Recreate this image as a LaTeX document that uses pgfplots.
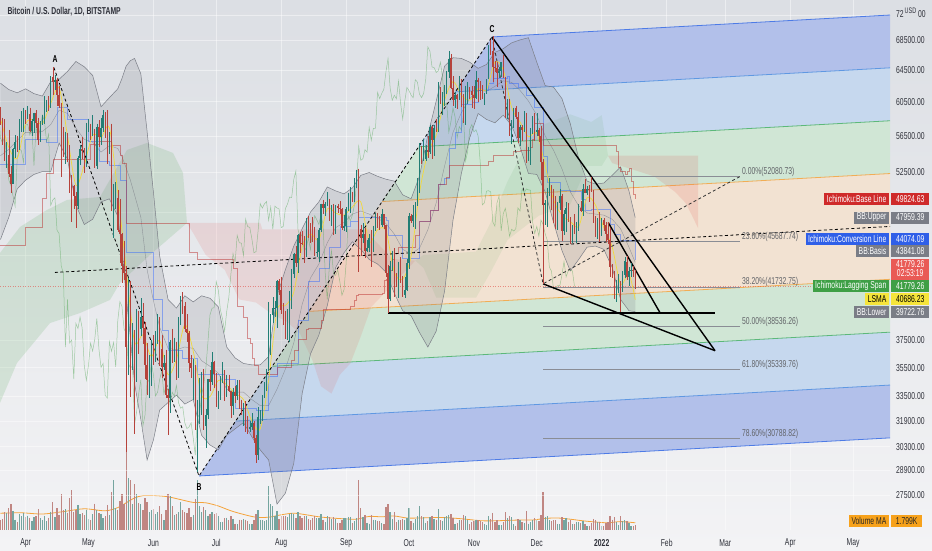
\documentclass[border=0pt]{standalone}
\usepackage{fontspec}
\setmainfont{Liberation Sans}
\usepackage{graphicx}
\usepackage{pgfplots}
\pgfplotsset{compat=1.18}
\usepackage{pgfplotstable}

\definecolor{bgtop}{HTML}{DCDFE4}
\definecolor{bgbot}{HTML}{F3F3F5}
\definecolor{upc}{HTML}{2A9D92}
\definecolor{dnc}{HTML}{E4524A}
\definecolor{upv}{HTML}{92CEC7}
\definecolor{dnv}{HTML}{F0A7A3}
\definecolor{pfbl}{HTML}{B2C0EA}
\definecolor{pflb}{HTML}{C6D8EE}
\definecolor{pfgr}{HTML}{D0E6D5}
\definecolor{pfor}{HTML}{F2E2D2}
\definecolor{plbl}{HTML}{4D7BE6}
\definecolor{pllb}{HTML}{5F98E2}
\definecolor{plgr}{HTML}{5CB87A}
\definecolor{plor}{HTML}{F1AD55}
\definecolor{bbc}{HTML}{7B7E87}
\definecolor{lsma}{HTML}{F2D93A}
\definecolor{lagc}{HTML}{43A047}
\definecolor{convc}{HTML}{2962FF}
\definecolor{basec}{HTML}{B71C1C}
\definecolor{volma}{HTML}{F5A33A}
\definecolor{fibc}{HTML}{8A8D95}
\definecolor{txt}{HTML}{2E3039}
\definecolor{lbred}{HTML}{CF2A2A}
\definecolor{lbgray}{HTML}{7A7D86}
\definecolor{lbblue}{HTML}{2F5FE8}
\definecolor{lbprice}{HTML}{E95A55}
\definecolor{lbgreen}{HTML}{3E9F45}
\definecolor{lbyel}{HTML}{F6E43A}
\definecolor{lborg}{HTML}{F7A21B}

\newcommand{\sq}[1]{\scalebox{0.68}[1]{#1}}
\newcommand{\tvf}{\fontsize{10}{11}\selectfont}

% day index: 0 = 1 Apr 2021; prices in USD, volume in thousand BTC
\pgfplotstableread{
d o h l c v
-12 58300 59900 57800 58100 2.5
-11 58100 58600 55500 57350 2.8
-10 57350 58400 53700 54080 4.5
-9 54080 55800 53000 54340 4.2
-8 54340 57200 52000 52300 5.5
-7 52300 53200 50400 51300 6.5
-6 51300 55100 51300 55000 4.8
-5 55000 56600 54000 55840 2.6
-4 55840 56500 54700 55780 2.0
-3 55780 58400 54900 57630 4.0
-2 57630 59400 57000 58770 3.5
-1 58770 59800 56900 58800 4.2
0 58800 59500 57900 58730 3.3
1 58730 60000 58500 58980 3.6
2 58980 59800 56900 57060 3.1
3 57060 58500 56500 58200 2.3
4 58200 59200 56800 59130 3.2
5 59130 59500 57400 57990 3.4
6 57990 58600 55500 56000 5.2
7 56000 58200 55800 58090 3.0
8 58090 58900 57700 58090 2.4
9 58090 61200 57900 59770 3.6
10 59770 60700 59300 60000 2.2
11 60000 61200 59400 59860 3.1
12 59860 63700 59800 63580 4.6
13 63580 64900 61300 62960 7.0
14 62960 63800 62000 63220 3.2
15 63220 63500 60000 61380 5.5
16 61380 62500 59700 60050 3.8
17 60050 60400 52000 56250 9.0
18 56250 57500 54200 55700 5.0
19 55700 57000 53400 56470 5.2
20 56470 56800 53600 53790 4.3
21 53790 55500 50400 51690 8.0
22 51690 52200 47500 51150 10.0
23 51150 51200 48800 50090 4.5
24 50090 50500 47000 49070 5.0
25 49070 54300 48800 54020 6.2
26 54020 55500 53300 55050 4.0
27 55050 56400 53900 54850 4.2
28 54850 55200 52400 53570 3.8
29 53570 58000 53100 57750 5.1
30 57750 58500 57000 57820 2.8
31 57820 57900 56000 56610 2.4
32 56610 58900 56500 57190 3.9
33 57190 57300 53000 53240 6.6
34 53240 57900 52900 57500 5.0
35 57500 58300 55300 56400 4.2
36 56400 58600 55500 57380 4.1
37 57380 59500 56900 58900 3.0
38 58900 59300 56300 58240 3.4
39 58240 59500 53400 55860 6.3
40 55860 56900 54500 56700 3.8
41 56700 57900 48600 49150 9.5
42 49150 51300 46000 49700 12.5
43 49700 51500 48800 49900 5.5
44 49900 50700 46600 46760 5.0
45 46760 49800 43800 46450 7.2
46 46450 46500 42100 43540 9.0
47 43540 45800 42300 42900 6.5
48 42900 43500 30000 37000 27.0
49 37000 42500 35000 40700 13.0
50 40700 42200 33500 37300 12.5
51 37300 38800 35300 37530 6.5
52 37530 38300 31100 34700 11.5
53 34700 39900 34500 38800 9.0
54 38800 39800 36500 38400 6.8
55 38400 40800 37800 39300 6.5
56 39300 40400 37200 38440 5.0
57 38440 38900 34700 35660 8.0
58 35660 37300 33600 34600 7.0
59 34600 36400 33400 35650 4.5
60 35650 37500 34200 37300 5.0
61 37300 37900 35700 36700 5.2
62 36700 38200 35900 37570 4.0
63 37570 39500 37200 39190 4.5
64 39190 39300 35600 36850 6.0
65 36850 37900 34800 35520 4.0
66 35520 36400 35300 35800 2.5
67 35800 36800 33400 33580 5.0
68 33580 34000 31000 33400 9.0
69 33400 37500 32400 37390 8.5
70 37390 38400 35800 36690 6.0
71 36690 37700 35900 37340 3.8
72 37340 37400 34600 35550 4.0
73 35550 39300 34800 39020 4.5
74 39020 41000 38700 40520 7.0
75 40520 41300 39500 40140 5.0
76 40140 40500 38100 38350 4.5
77 38350 39500 37400 38090 4.2
78 38090 38200 35200 35820 5.5
79 35820 36400 34800 35480 3.2
80 35480 36100 33300 35600 3.8
81 35600 35700 31300 31680 7.8
82 31680 33300 28800 32500 12.5
83 32500 34800 31700 33700 6.0
84 33700 35200 32300 34660 4.5
85 34660 35400 31300 31590 5.8
86 31590 32700 30200 32280 5.0
87 32280 34700 32000 34700 3.6
88 34700 35300 33900 34500 4.0
89 34500 36600 34300 35900 4.5
90 35900 36000 34100 35040 4.0
91 35040 35100 32800 33540 4.2
92 33540 33900 32700 33800 3.5
93 33800 34900 33300 34670 2.0
94 34670 35900 34400 35290 2.1
95 35290 35300 33200 33690 3.0
96 33690 35000 33500 34230 3.1
97 34230 35000 33800 33880 2.5
98 33880 33900 32100 32880 3.4
99 32880 34100 32300 33800 2.8
100 33800 34200 33100 33510 1.6
101 33510 34600 33300 34260 1.4
102 34260 34600 32700 33090 2.6
103 33090 33300 32300 32730 2.4
104 32730 33100 31600 32820 2.7
105 32820 33200 31200 31780 2.6
106 31780 32200 31100 31420 2.2
107 31420 31900 31200 31520 1.4
108 31520 32400 31300 31780 1.5
109 31780 31900 30500 30840 2.5
110 30840 31000 29300 29790 4.0
111 29790 32800 29500 32140 5.0
112 32140 32600 31700 32300 2.6
113 32300 33600 31900 33600 2.5
114 33600 34500 33400 34270 2.3
115 34270 35400 33900 35400 2.4
116 35400 40500 35300 37300 11.0
117 37300 39500 36400 39460 6.5
118 39460 40900 38800 40000 6.0
119 40000 40600 39300 40020 3.5
120 40020 42300 38400 42200 4.8
121 42200 42400 41100 41460 2.8
122 41460 42600 39500 39850 3.5
123 39850 40400 38700 39150 3.4
124 39150 39800 37600 38200 3.5
125 38200 39900 37500 39740 3.2
126 39740 41400 37400 40870 4.0
127 40870 43300 39900 42830 4.2
128 42830 44700 42500 44630 4.0
129 44630 45300 43400 43830 3.0
130 43830 46400 42900 46280 4.4
131 46280 46600 44700 45600 3.5
132 45600 46700 45400 45570 3.0
133 45570 46200 43800 44430 3.4
134 44430 47900 44300 47830 3.6
135 47830 48100 46000 47100 2.8
136 47100 47400 45600 47030 2.5
137 47030 48000 45700 45960 3.0
138 45960 47100 44400 44700 3.5
139 44700 46000 44300 44800 3.0
140 44800 47000 43900 46750 3.1
141 46750 49300 46600 49330 3.9
142 49330 49700 48300 48880 2.6
143 48880 49500 48100 49300 2.0
144 49300 50500 49100 49530 3.4
145 49530 49800 47600 47700 3.2
146 47700 49200 47200 48990 2.8
147 48990 49300 46300 46850 3.2
148 46850 49200 46400 49070 2.8
149 49070 49300 48400 48900 1.8
150 48900 49600 48300 48800 1.7
151 48800 48900 46800 46990 2.6
152 46990 48200 46700 47130 2.9
153 47130 49000 46600 48830 3.0
154 48830 50400 48600 49280 3.2
155 49280 51000 48400 49980 3.3
156 49980 50500 49500 49930 1.8
157 49930 51900 49500 51770 2.2
158 51770 52800 50900 52660 3.0
159 52660 52900 43000 46860 12.5
160 46860 47300 44400 46070 5.5
161 46070 47400 45600 46390 3.3
162 46390 47000 44200 44850 3.8
163 44850 45900 44800 45160 1.8
164 45160 46400 44800 46030 1.6
165 46030 46800 43400 44960 3.8
166 44960 47200 44800 47090 2.6
167 47090 48400 46700 48150 2.5
168 48150 48400 47000 47750 2.3
169 47750 48100 46800 47300 2.2
170 47300 48800 47100 48300 1.7
171 48300 48300 46900 47250 1.5
172 47250 47300 42600 42960 5.8
173 42960 43600 39600 40700 6.5
174 40700 44000 40600 43560 4.5
175 43560 44900 43100 44880 2.8
176 44880 45100 40900 42840 4.5
177 42840 42900 41700 42720 2.0
178 42720 43900 40800 43200 2.6
179 43200 44300 42100 42170 2.5
180 42170 42700 40900 41040 2.8
181 41040 42600 40800 41520 2.4
182 41520 44100 41400 43790 3.0
183 43790 48400 43300 48140 5.5
184 48140 48300 47400 47660 2.2
185 47660 49200 47100 48200 1.8
186 48200 49500 46900 49240 2.8
187 49240 51900 49100 51490 3.5
188 51490 55700 50400 55340 6.0
189 55340 55400 53400 53800 3.5
190 53800 56100 53700 53970 3.2
191 53970 55500 53700 54960 1.8
192 54960 56500 54100 54690 2.2
193 54690 57800 54500 57480 3.2
194 57480 57600 53900 56000 3.6
195 56000 57700 54300 57370 2.8
196 57370 58500 56900 57350 2.6
197 57350 62900 56900 61670 5.2
198 61670 62300 60200 60880 2.4
199 60880 61700 58900 61530 2.2
200 61530 62600 60000 62040 3.2
201 62040 64400 61400 64260 3.5
202 64260 67000 63500 65990 3.8
203 65990 66600 62100 62210 4.0
204 62210 63700 60000 60690 3.0
205 60690 61700 59800 61300 1.6
206 61300 61500 59600 60860 1.7
207 60860 63700 60700 63080 2.4
208 63080 63300 59900 60330 2.5
209 60330 61400 58000 58450 3.8
210 58450 62500 57800 60600 3.5
211 60600 62900 60200 62270 2.4
212 62270 62300 60800 61880 1.4
213 61880 62400 59700 61320 1.9
214 61320 62400 59600 61000 2.3
215 61000 64300 60800 63230 2.6
216 63230 63500 60500 62950 2.4
217 62950 63100 60700 61440 2.2
218 61440 62600 60800 61000 2.0
219 61000 61600 60100 61530 1.4
220 61530 63300 61400 63310 1.3
221 63310 67800 63300 67550 3.4
222 67550 68500 66400 66950 2.8
223 66950 69000 63000 64880 4.3
224 64880 65600 64200 64800 2.0
225 64800 65500 62300 64160 2.5
226 64160 64900 63400 64400 1.3
227 64400 65500 63600 65500 1.2
228 65500 66400 63400 63600 2.1
229 63600 63600 58600 60100 4.5
230 60100 60800 58400 60360 2.9
231 60360 60900 56500 56900 3.6
232 56900 58300 55600 58100 3.2
233 58100 59800 57400 59750 1.5
234 59750 60000 58500 58700 1.1
235 58700 59300 55700 56300 2.7
236 56300 57800 55400 57570 2.4
237 57570 57700 55900 57160 2.0
238 57160 59400 57000 58960 1.8
239 58960 59200 53500 53720 4.8
240 53720 55300 53700 54740 1.6
241 54740 57400 53300 57270 1.9
242 57270 58800 56700 57800 2.5
243 57800 59200 55900 56950 3.0
244 56950 59100 56500 57200 2.6
245 57200 57400 55800 56500 2.2
246 56500 57600 51700 53600 3.8
247 53600 53900 42000 49200 9.5
248 49200 49700 47300 49400 3.3
249 49400 50900 47100 50580 3.5
250 50580 51900 50100 50620 2.4
251 50620 51200 48700 50500 2.2
252 50500 50800 47400 47540 2.4
253 47540 50100 46900 47140 2.5
254 47140 49500 46800 49390 1.6
255 49390 50800 48700 50100 1.5
256 50100 50300 45800 46700 3.2
257 46700 48700 46300 48340 2.4
258 48340 49500 46600 48870 3.0
259 48870 49400 47500 47640 1.9
260 47640 48000 45500 46200 2.6
261 46200 47300 45600 46850 1.5
262 46850 48300 46400 46690 1.5
263 46690 47500 45600 46900 2.0
264 46900 49300 46700 48900 2.0
265 48900 49600 48500 48600 1.7
266 48600 51300 48100 50800 2.2
267 50800 51800 50500 50420 1.6
268 50420 51100 50200 50800 0.9
269 50800 51200 49500 50700 1.1
270 50700 52000 50500 50680 1.7
271 50680 50700 47400 47540 2.8
272 47540 48100 46100 46460 2.4
273 46460 47900 45900 47120 2.0
274 47120 48500 45700 46210 2.1
275 46210 47900 46200 47720 1.1
276 47720 47900 46700 47300 1.0
277 47300 47500 45700 46430 1.7
278 46430 47500 45500 45830 2.0
279 45830 47000 42600 43430 3.5
280 43430 43700 42500 43080 2.6
281 43080 43100 40700 41540 3.2
282 41540 42300 40500 41670 1.9
283 41670 42800 41200 41850 1.3
284 41850 42200 39650 41830 3.4
285 41830 43100 41300 42740 2.3
286 42740 44300 42500 43920 2.5
287 43920 44400 42300 42590 2.3
288 42590 43400 41800 43100 1.8
289 43100 43800 42600 43180 1.0
290 43180 43500 42600 43100 1.0
291 43100 43200 41600 41779 1.2
}\ohlc

% Bollinger bands (20,2): upper, basis, lower
\pgfplotstableread{
d u m l
-12 62800 54300 45900
-8 62000 55000 48000
-4 61600 56000 50800
0 62100 56900 51700
4 61500 56900 52300
8 61200 57000 52600
12 63000 57800 52600
16 63300 59500 55700
20 64300 59100 53900
24 65600 57400 49200
28 64900 56100 47300
32 63800 55800 47800
36 59900 54700 49500
40 61000 55400 49800
44 62100 55100 48100
46 63400 54200 45000
48 65000 53000 41000
50 65700 51700 37700
52 66000 50200 34400
55 64000 48000 32000
58 57000 43200 29500
61 50500 40600 30700
64 44400 38500 32600
68 40700 36900 33100
72 40000 36800 33600
76 41000 37000 33000
80 40500 36900 33300
84 41000 36000 31000
88 40800 35600 30400
92 40100 35100 30100
96 37000 34000 31000
100 36200 33800 31400
104 35800 33800 31800
108 35700 33300 30900
112 35700 32900 30100
116 36300 32900 29500
120 41000 34000 27000
124 43200 35400 27600
128 45300 37300 29300
132 46900 40300 33700
136 48500 42500 36500
140 49500 43700 37900
144 51000 45600 40200
148 50600 47000 43400
152 50300 47500 44700
156 50900 48300 45700
160 52200 48600 45000
164 52500 48300 44100
168 52100 47900 43700
172 51800 47400 43000
176 51600 46400 41200
180 50200 45000 39800
184 49800 44600 39400
188 52100 45100 38100
192 56600 46800 37000
196 60600 49400 38200
200 65000 53200 41400
204 66100 56900 47700
208 66000 59200 52400
212 65500 60900 56300
216 64700 61900 59100
220 65200 61800 58400
224 66800 62400 58000
228 67300 63100 58900
232 68100 62900 57700
236 68500 61900 55300
240 68800 60600 52400
244 65500 58900 52300
248 62500 56500 50500
252 62300 54900 47500
256 60900 52900 44900
260 57900 50500 43100
264 54000 49100 44100
268 51600 48400 45200
272 51300 48300 45300
276 51400 48200 45000
280 52200 47800 43400
284 53100 46900 40700
288 50600 45200 39800
291 47960 43840 39720
}\bbands

\begin{document}
\begin{tikzpicture}[x=1pt,y=1pt]
\shade[top color=bgtop, bottom color=bgbot] (0,-20) rectangle (932,530);
\path[use as bounding box] (0,-20) rectangle (932,530);

% volume pane (4pt per thousand BTC)
\begin{axis}[at={(0,0)}, anchor=south west, width=890pt, height=130pt,
  scale only axis, xmin=-12.22, xmax=412.6, ymin=0, ymax=32.5, hide axis,
  colormap={vol}{color(0cm)=(dnv); color(1cm)=(upv)},
  point meta min=0, point meta max=1]
\addplot[scatter, only marks, mark=|, mark options={line width=1.3pt},
  point meta=explicit,
  visualization depends on={2*\thisrow{v} \as \vsize},
  scatter/@pre marker code/.append style={/tikz/mark size=\vsize}]
  table[x=d, y expr={\thisrow{v}/2}, meta expr={\thisrow{c}>=\thisrow{o}}] {\ohlc};
\addplot[volma, line width=0.8pt, smooth] coordinates {
 (-12,4.2) (-2,4.3) (8,4.0) (18,4.6) (28,5.3) (38,4.8) (44,5.6) (48,6.8)
 (52,8.0) (56,8.6) (62,8.6) (68,8.3) (74,7.6) (80,6.9) (86,6.8) (92,6.0)
 (98,4.8) (104,3.9) (110,3.2) (116,3.2) (122,3.8) (128,4.2) (134,3.8)
 (140,3.3) (146,3.0) (152,2.8) (158,2.7) (164,3.4) (170,3.3) (176,3.5)
 (182,3.0) (188,3.0) (194,3.1) (200,3.1) (206,2.9) (212,2.6) (218,2.3)
 (224,2.3) (230,2.4) (236,2.5) (242,2.5) (248,2.9) (254,3.0) (260,2.7)
 (266,2.3) (272,2.0) (278,1.8) (284,2.1) (291,1.8)};
\end{axis}

% price pane (log scale, 498.62pt per unit of ln price)
\begin{axis}[at={(0,0)}, anchor=south west, width=890pt, height=530pt,
  scale only axis, xmin=-12.22, xmax=412.6,
  ymode=log, ymin=25636, ymax=74213,
  axis line style={draw=none}, major tick length=0pt,
  grid=major, grid style={white, opacity=0.45, line width=0.6pt},
  colormap={candle}{color(0cm)=(dnc); color(1cm)=(upc)},
  point meta min=0, point meta max=1,
  xtick={0,30,61,91,122,153,183,214,244,275,306,334,365,395},
  xticklabels={\sq{Apr},\sq{May},\sq{Jun},\sq{Jul},\sq{Aug},\sq{Sep},\sq{Oct},\sq{Nov},\sq{Dec},\sq{\bfseries 2022},\sq{Feb},\sq{Mar},\sq{Apr},\sq{May}},
  xticklabel style={anchor=center, inner sep=0pt, yshift=-13pt, font=\tvf, text=txt},
  ytick={27500,28900,30300,31900,33500,35500,37500,52500,56500,60500,64500,68500},
  yticklabels={\sq{27500.00},\sq{28900.00},\sq{30300.00},\sq{31900.00},\sq{33500.00},\sq{35500.00},\sq{37500.00},\sq{52500.00},\sq{56500.00},\sq{60500.00},\sq{64500.00},\sq{68500.00}},
  extra y ticks={44500,48500,72000}, extra y tick labels={},
  yticklabel pos=right,
  yticklabel style={anchor=west, inner sep=0pt, xshift=6pt, font=\tvf, text=txt}]

% pitchfork channels
\addplot[fill=pfbl, draw=none] coordinates {(222.63,68907) (412.6,72001) (412.6,64766) (205.16,61723)};
\addplot[fill=pflb, draw=none] coordinates {(205.16,61723) (412.6,64766) (412.6,58246) (187.68,55287)};
\addplot[fill=pfgr, draw=none] coordinates {(187.68,55287) (412.6,58246) (412.6,52393) (170.17,49530)};
\addplot[fill=pfor, draw=none] coordinates {(170.17,49530) (412.6,52393) (412.6,42378) (135.23,39744)};
\addplot[fill=pfgr, draw=none] coordinates {(135.23,39744) (412.6,42378) (412.6,38120) (117.76,35599)};
\addplot[fill=pflb, draw=none] coordinates {(117.76,35599) (412.6,38120) (412.6,34282) (100.24,31893)};
\addplot[fill=pfbl, draw=none] coordinates {(100.24,31893) (412.6,34282) (412.6,30837) (82.77,28568)};
\addplot[plbl, line width=0.8pt] coordinates {(222.63,68907) (412.6,72001)};
\addplot[pllb, line width=0.8pt] coordinates {(205.16,61723) (412.6,64766)};
\addplot[plgr, line width=0.8pt] coordinates {(187.68,55287) (412.6,58246)};
\addplot[plor, line width=0.8pt] coordinates {(170.17,49530) (412.6,52393)};
\addplot[plor, line width=0.8pt] coordinates {(135.23,39744) (412.6,42378)};
\addplot[plgr, line width=0.8pt] coordinates {(117.76,35599) (412.6,38120)};
\addplot[pllb, line width=0.8pt] coordinates {(100.24,31893) (412.6,34282)};
\addplot[plbl, line width=0.8pt] coordinates {(82.77,28568) (412.6,30837)};

% ichimoku cloud
\addplot[fill=lagc, fill opacity=0.15, draw=none] coordinates {
 (-12.22,44681) (-2.67,47072) (10.21,48705) (19.76,49692) (35.51,49991)
 (48.4,54933) (57.95,55709) (70.36,54603) (75.13,52456) (77.04,47450)
 (59.38,44502) (45.06,42072) (40.29,40662) (25.97,39615) (11.65,38828)
 (-4.11,35835) (-12.22,33073)};
\addplot[fill=dnc, fill opacity=0.13, draw=none] coordinates {
 (77,47450) (112,47450) (113,46850) (164,46850) (165,46150) (175,44150) (186,44000)
 (175,41900) (165,40100) (160,37800) (155,35800) (150,35000) (146,33700)
 (141,34200) (137,36000) (131,38000) (125,38900) (117,39600) (110,40450)
 (102,40700) (95,43200) (86,44500) (80,46500)};
\addplot[fill=lagc, fill opacity=0.09, draw=none] coordinates {
 (186,44000) (190,44500) (200,44600) (215,44800) (222,47500) (230,51550)
 (238,55000) (245,57600) (260,59000) (270,58100) (275,58900) (278,54300)
 (275,53200) (268,53200) (260,49250) (245,48150) (230,45850) (222,43000)
 (215,40850) (196,40850) (190,43350)};
\addplot[fill=dnc, fill opacity=0.15, draw=none] coordinates {
 (278,54300) (321,54300) (321,46950) (318,48200) (315,49400) (310,50500)
 (300,52100) (290,52800) (280,53500)};

% Bollinger bands
\addplot[fill=bbc, fill opacity=0.2, draw=none] coordinates {
 (-12,62800) (-8,62000) (-4,61600) (0,62100) (4,61500) (8,61200) (12,63000)
 (16,63300) (20,64300) (24,65600) (28,64900) (32,63800) (36,59900) (40,61000)
 (44,62100) (46,63400) (48,65000) (50,65700) (52,66000) (55,64000) (58,57000)
 (61,50500) (64,44400) (68,40700) (72,40000) (76,41000) (80,40500) (84,41000)
 (88,40800) (92,40100) (96,37000) (100,36200) (104,35800) (108,35700)
 (112,35700) (116,36300) (120,41000) (124,43200) (128,45300) (132,46900)
 (136,48500) (140,49500) (144,51000) (148,50600) (152,50300) (156,50900)
 (160,52200) (164,52500) (168,52100) (172,51800) (176,51600) (180,50200)
 (184,49800) (188,52100) (192,56600) (196,60600) (200,65000) (204,66100)
 (208,66000) (212,65500) (216,64700) (220,65200) (224,66800) (228,67300)
 (232,68100) (236,68500) (240,68800) (244,65500) (248,62500) (252,62300)
 (256,60900) (260,57900) (264,54000) (268,51600) (272,51300) (276,51400)
 (280,52200) (284,53100) (288,50600) (291,47960)
 (291,39720) (288,39800) (284,40700) (280,43400) (276,45000) (272,45300)
 (268,45200) (264,44100) (260,43100) (256,44900) (252,47500) (248,50500)
 (244,52300) (240,52400) (236,55300) (232,57700) (228,58900) (224,58000)
 (220,58400) (216,59100) (212,56300) (208,52400) (204,47700) (200,41400)
 (196,38200) (192,37000) (188,38100) (184,39400) (180,39800) (176,41200)
 (172,43000) (168,43700) (164,44100) (160,45000) (156,45700) (152,44700)
 (148,43400) (144,40200) (140,37900) (136,36500) (132,33700) (128,29300)
 (124,27600) (120,27000) (116,29500) (112,30100) (108,30900) (104,31800)
 (100,31400) (96,31000) (92,30100) (88,30400) (84,31000) (80,33300)
 (76,33000) (72,33600) (68,33100) (64,32600) (61,30700) (58,29500)
 (55,32000) (52,34400) (50,37700) (48,41000) (46,45000) (44,48100)
 (40,49800) (36,49500) (32,47800) (28,47300) (24,49200) (20,53900)
 (16,55700) (12,52600) (8,52600) (4,52300) (0,51700) (-4,50800)
 (-8,48000) (-12,45900)};
\addplot[bbc, line width=0.5pt] table[x=d, y=u] {\bbands};
\addplot[bbc, line width=0.5pt] table[x=d, y=l] {\bbands};
\addplot[bbc, line width=0.4pt, opacity=0.7] table[x=d, y=m] {\bbands};

% ichimoku conversion (20) and base (60) lines
\addplot[const plot, convc, line width=0.5pt, opacity=0.45] coordinates {
 (-12,53400) (0,56100) (10,55800) (15,59800) (20,58450) (30,55950) (35,53700)
 (40,53250) (45,51650) (48,44750) (61,40750) (65,38250) (68,36750) (75,36150)
 (82,35050) (95,34650) (100,32700) (110,32600) (116,34900) (120,35800)
 (130,39050) (135,42250) (140,43350) (145,45200) (150,47150) (155,47650)
 (159,47950) (172,47750) (173,46250) (180,44200) (188,47650) (193,48700)
 (197,51250) (200,51850) (202,55150) (205,56950) (208,60200) (213,60450)
 (216,61950) (221,62800) (223,63400) (230,63700) (231,62750) (235,62350)
 (239,61250) (243,59850) (247,54200) (249,51450) (255,50700) (260,50600)
 (265,49800) (267,48700) (270,48750) (279,47300) (281,46350) (284,45800)
 (291,44074)};
\addplot[const plot, basec, line width=0.5pt, opacity=0.45] coordinates {
 (-12,45350) (0,47050) (8,49900) (10,52400) (13,53950) (31,55600) (35,55950)
 (41,55450) (45,54350) (46,53500) (48,47450) (78,44750) (82,44150) (99,43350)
 (101,40150) (104,39300) (106,37650) (107,37300) (108,36150) (109,35650)
 (111,35050) (120,35550) (127,36050) (128,36750) (130,37600) (134,38350)
 (135,38450) (141,39050) (142,39900) (155,40150) (157,40600) (158,41050)
 (159,41100) (170,41200) (171,42300) (172,42400) (173,43150) (175,44100)
 (176,44650) (178,45150) (186,46250) (188,47650) (193,48700) (197,51250)
 (201,52000) (202,53300) (221,53700) (223,54300) (233,54800) (236,54900)
 (241,55200) (242,56150) (243,57950) (247,55500) (282,54750) (283,53050)
 (284,52600) (286,52300) (287,52600) (288,53000) (289,51600) (290,50300)
 (291,49825)};

% fib retracement
\addplot[fibc, line width=0.8pt] coordinates {(247,52080.73) (341,52080.73)};
\addplot[fibc, line width=0.8pt] coordinates {(247,45687.74) (341,45687.74)};
\addplot[fibc, line width=0.8pt] coordinates {(247,41732.75) (341,41732.75)};
\addplot[fibc, line width=0.8pt] coordinates {(247,38536.26) (341,38536.26)};
\addplot[fibc, line width=0.8pt] coordinates {(247,35339.76) (341,35339.76)};
\addplot[fibc, line width=0.8pt] coordinates {(247,30788.82) (341,30788.82)};

% lagging span, last price line, LSMA
\addplot[lagc, line width=0.5pt, opacity=0.45] table[x expr=\thisrow{d}-29, y=c] {\ohlc};
\addplot[dnc, line width=0.4pt, opacity=0.6, dash pattern=on 1pt off 1.5pt] coordinates {(-12.22,41779.26) (412.6,41779.26)};
\addplot[lsma, line width=0.7pt, smooth] coordinates {
 (-12,58500) (-8,55200) (-4,54000) (0,57900) (4,58400) (8,57900) (12,60300)
 (16,62200) (20,56500) (24,51200) (28,53300) (32,56600) (36,56300) (40,57400)
 (44,50400) (48,43300) (52,37400) (56,37900) (60,36300) (64,37500) (68,35000)
 (72,36100) (76,38700) (80,36700) (84,33600) (88,33500) (92,34600) (96,34300)
 (100,33700) (104,33300) (108,31900) (112,31400) (116,34600) (120,39800)
 (124,40200) (128,41300) (132,45200) (136,46400) (140,45900) (144,48800)
 (148,48400) (152,48200) (156,49000) (160,49500) (164,45700) (168,46800)
 (172,46700) (176,43000) (180,42400) (184,44400) (188,50400) (192,54600)
 (196,56600) (200,60700) (204,63000) (208,61300) (212,60700) (216,62100)
 (220,62000) (224,65500) (228,64500) (232,59800) (236,58100) (240,56400)
 (244,56800) (248,53200) (252,49700) (256,48200) (260,47600) (264,47100)
 (268,49900) (272,49200) (276,47000) (280,45200) (284,42000) (288,42800)
 (291,40686)};

% candles: wick from low to high, body from open to close
\addplot[scatter, only marks, mark=|, mark options={line width=0.5pt},
  point meta=explicit,
  visualization depends on={249.31*ln(\thisrow{h}/\thisrow{l}) \as \wsize},
  scatter/@pre marker code/.append style={/tikz/mark size=\wsize}]
  table[x=d, y expr={sqrt(\thisrow{h}*\thisrow{l})}, meta expr={\thisrow{c}>=\thisrow{o}}] {\ohlc};
\addplot[scatter, only marks, mark=|, mark options={line width=1.4pt},
  point meta=explicit,
  visualization depends on={max(249.31*abs(ln(\thisrow{c}/\thisrow{o})),0.4) \as \bsize},
  scatter/@pre marker code/.append style={/tikz/mark size=\bsize}]
  table[x=d, y expr={sqrt(\thisrow{o}*\thisrow{c})}, meta expr={\thisrow{c}>=\thisrow{o}}] {\ohlc};

% drawn pattern lines
\addplot[black, line width=0.8pt, dash pattern=on 3pt off 2.5pt] coordinates {(13.5,64800) (82.77,28568) (222.63,68907)};
\addplot[black, line width=0.8pt, dash pattern=on 3pt off 2.5pt] coordinates {(14.03,42968) (412.6,47118)};
\addplot[black!80, line width=0.8pt, dash pattern=on 3pt off 2.5pt] coordinates {(222.63,68907) (247,42000) (341,52080.73)};
\addplot[black, line width=1.4pt] coordinates {(222.63,68907) (329.07,36731)};
\addplot[black, line width=1.4pt] coordinates {(247,42000) (329.07,36731)};
\addplot[black, line width=1.4pt] coordinates {(278.14,47478) (302.8,39640)};
\addplot[black, line width=1.4pt] coordinates {(172.97,39620) (329.07,39620)};

% fib labels
\begin{scope}[every node/.style={anchor=west, inner sep=0pt, xshift=2pt, yshift=5pt, text=fibc!70!black, font=\tvf}]
\node at (axis cs:341,52080.73) {\sq{0.00\%(52080.73)}};
\node at (axis cs:341,45687.74) {\sq{23.60\%(45687.74)}};
\node at (axis cs:341,41732.75) {\sq{38.20\%(41732.75)}};
\node at (axis cs:341,38536.26) {\sq{50.00\%(38536.26)}};
\node at (axis cs:341,35339.76) {\sq{61.80\%(35339.76)}};
\node at (axis cs:341,30788.82) {\sq{78.60\%(30788.82)}};
\end{scope}
\end{axis}

% title and point labels
\node[anchor=west, text=txt, font=\tvf\bfseries] at (4,518) {\sq{Bitcoin / U.S. Dollar, 1D, BITSTAMP}};
\node[font=\fontsize{10}{11}\selectfont\bfseries] at (55,471) {\sq{A}};
\node[font=\fontsize{10}{11}\selectfont\bfseries] at (199,43) {\sq{B}};
\node[font=\fontsize{10}{11}\selectfont\bfseries] at (492,501) {\sq{C}};

% top of the price scale: 72 USD 00
\node[anchor=west, inner sep=0pt, text=txt, font=\tvf] at (896,515.5) {\sq{72}};
\node[anchor=west, inner sep=0pt, text=txt, font=\fontsize{8}{9}\selectfont] at (904.5,519.5) {\sq{USD}};
\node[anchor=west, inner sep=0pt, text=txt, font=\tvf] at (918,515.5) {\sq{00}};

% right-hand labels
\begin{scope}[every node/.style={minimum height=12pt, inner ysep=0pt, inner xsep=2.5pt, font=\tvf, text=white}]
\node[fill=lbred, anchor=east] at (889,331) {\sq{Ichimoku:Base Line}};
\node[fill=lbred, anchor=west, minimum width=38pt] at (891,331) {\sq{49824.63}};
\node[fill=lbgray, anchor=east] at (889,312.5) {\sq{BB:Upper}};
\node[fill=lbgray, anchor=west, minimum width=38pt] at (891,312.5) {\sq{47959.39}};
\node[fill=lbblue, anchor=east] at (889,291) {\sq{Ichimoku:Conversion Line}};
\node[fill=lbblue, anchor=west, minimum width=38pt] at (891,291) {\sq{44074.09}};
\node[fill=lbgray, anchor=east] at (889,279) {\sq{BB:Basis}};
\node[fill=lbgray, anchor=west, minimum width=38pt] at (891,279) {\sq{43841.08}};
\node[fill=lbprice, anchor=west, minimum width=38pt, minimum height=21pt, align=center] at (891,261) {\sq{41779.26}\\[-2pt]\sq{02:53:19}};
\node[fill=lbgreen, anchor=east] at (889,244) {\sq{Ichimoku:Lagging Span}};
\node[fill=lbgreen, anchor=west, minimum width=38pt] at (891,244) {\sq{41779.26}};
\node[fill=lbyel, anchor=east, text=black] at (889,231) {\sq{LSMA}};
\node[fill=lbyel, anchor=west, minimum width=38pt, text=black] at (891,231) {\sq{40686.23}};
\node[fill=lbgray, anchor=east] at (889,218) {\sq{BB:Lower}};
\node[fill=lbgray, anchor=west, minimum width=38pt] at (891,218) {\sq{39722.76}};
\node[fill=lborg, anchor=east, text=black!85] at (889,9) {\sq{Volume MA}};
\node[fill=lborg, anchor=west, minimum width=31pt, text=black!85] at (891,9) {\sq{1.799K}};
\end{scope}
\end{tikzpicture}
\end{document}
